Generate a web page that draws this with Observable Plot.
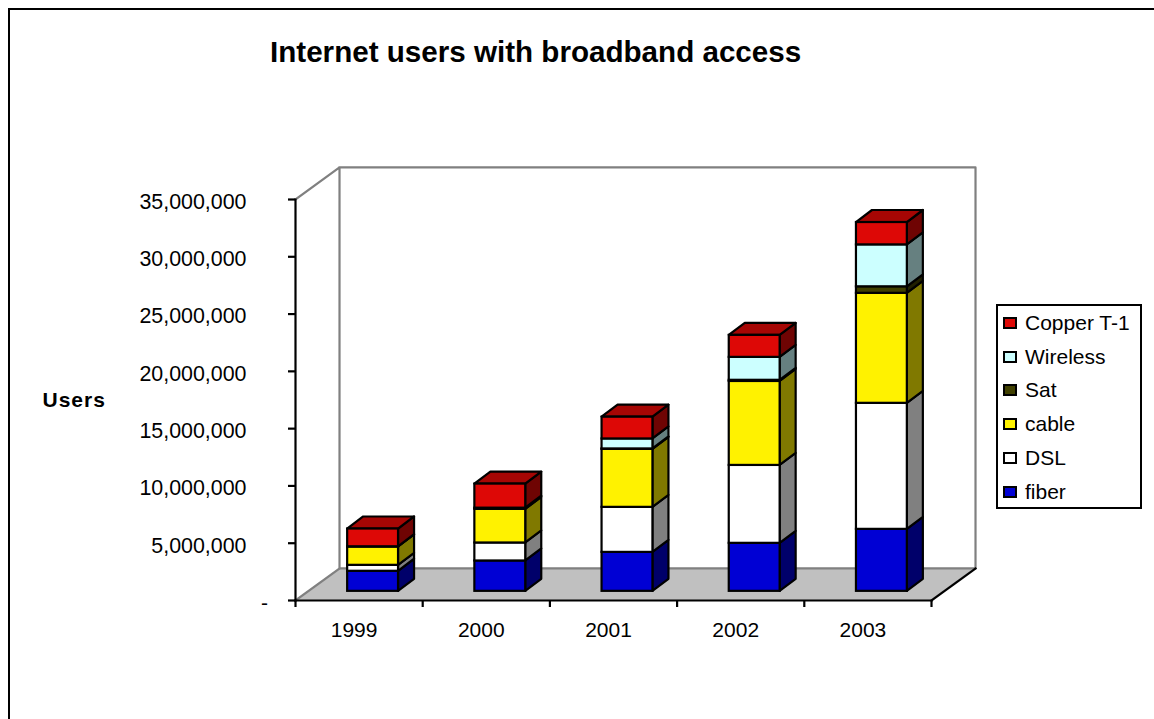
<!DOCTYPE html>
<html>
<head>
<meta charset="utf-8">
<script src="https://cdn.jsdelivr.net/npm/d3@7"></script>
<script src="https://cdn.jsdelivr.net/npm/@observablehq/plot@0.6"></script>
<style>
  html, body { margin: 0; padding: 0; background: #fff; }
  #page { position: relative; width: 1154px; height: 719px; overflow: hidden; font-family: "Liberation Sans", Arial, sans-serif; color: #000; }
  #page svg { position: absolute; left: 0; top: 0; }
  #frame { position: absolute; left: 8px; top: 8px; width: 1200px; height: 800px; border: 2px solid #000; }
  #title { position: absolute; left: 270px; top: 35px; font-size: 29.6px; font-weight: bold; white-space: nowrap; }
  #legend { position: absolute; left: 996px; top: 304px; width: 142px; height: 201px; border: 2px solid #000; background: #fff; }
  .entry { position: absolute; left: 5px; height: 24px; display: flex; align-items: center; font-size: 21px; white-space: nowrap; }
  .swatch { width: 10px; height: 8px; border: 2px solid #000; margin-right: 8px; }
</style>
</head>
<body>
<div id="page">
  <div id="frame"></div>
  <div id="title">Internet users with broadband access</div>
  <div id="legend"></div>
</div>
<script>
// Users per access technology, bottom to top of each stack
const years = [1999, 2000, 2001, 2002, 2003];
const seriesNames = ["fiber", "DSL", "cable", "Sat", "Wireless", "Copper T-1"];
const fiber = [1750000, 2650000, 3400000, 4190000, 5410000];
const dsl = [520000, 1570000, 3930000, 6800000, 11000000];
const cable = [1600000, 2940000, 5060000, 7330000, 9600000];
const sat = [20000, 100000, 40000, 100000, 570000];
const wireless = [0, 0, 870000, 2000000, 3660000];
const copper = [1550000, 2100000, 1900000, 1920000, 1950000];
const seriesValues = [fiber, dsl, cable, sat, wireless, copper];

// Face colours: lit front, half-shaded side, three-quarter top
const frontColors = ["#0000d4", "#ffffff", "#fff200", "#404000", "#ccffff", "#dd0806"];
const sideColors = ["#00006a", "#808080", "#807900", "#202000", "#668080", "#6f0403"];
const topColors = ["#00009f", "#bfbfbf", "#bfb600", "#303000", "#99bfbf", "#a60604"];

// Oblique projection, in data units: depth of the box and of each column
const boxDepthX = 0.346, boxDepthY = 2800000;
const barDepthX = 0.126, barDepthY = 1050000;
const barHalf = 0.2;
const barShift = (boxDepthX - barDepthX) / 2;
const barLift = 800000;
const xStart = years[0] - 0.5, xEnd = years[4] + 0.5;
const yMax = 35000000;
const yTicks = d3.range(0, yMax + 1, 5000000);
const xTicks = d3.range(xStart, xEnd + 0.5, 1);
const wallColor = "#808080", lineWidth = 2.2;

// One record per stacked segment
const segments = [];
years.forEach((year, i) => {
  let base = 0;
  seriesValues.forEach((values, s) => {
    if (values[i] > 0) {
      segments.push({year, s, y0: base, y1: base + values[i]});
      base += values[i];
    }
  });
});
const stackTops = segments.filter((d) => !segments.some((e) => e.year === d.year && e.y0 === d.y1));

const left = (d) => d.year - barHalf + barShift;
const right = (d) => d.year + barHalf + barShift;

const sidePoints = segments.flatMap((d) => [0, 1].map((t) => ({
  key: `${d.year}-${d.s}`,
  fill: sideColors[d.s],
  x: right(d) + t * barDepthX,
  y1: d.y0 + barLift + t * barDepthY,
  y2: d.y1 + barLift + t * barDepthY
})));
const topPoints = stackTops.flatMap((d) => [0, 1].map((t) => ({
  key: d.year,
  fill: topColors[d.s],
  y: d.y1 + barLift + t * barDepthY,
  x1: left(d) + t * barDepthX,
  x2: right(d) + t * barDepthX
})));
const frontFaces = segments.map((d) => ({
  fill: frontColors[d.s],
  x1: left(d), x2: right(d),
  y1: d.y0 + barLift, y2: d.y1 + barLift
}));

const line = (points, stroke) => Plot.line(points, {x: "0", y: "1", stroke, strokeWidth: lineWidth, strokeLinecap: "square"});

const chart = Plot.plot({
  width: 1154,
  height: 719,
  marginLeft: 295,
  marginRight: 223,
  marginTop: 199,
  marginBottom: 119,
  style: {background: "transparent", fontFamily: '"Liberation Sans", Arial, sans-serif', fontSize: "21px", color: "#000", overflow: "visible"},
  x: {type: "linear", domain: [xStart, xEnd]},
  y: {type: "linear", domain: [0, yMax]},
  marks: [
    // Floor of the box
    Plot.areaX([{y: 0, x1: xStart, x2: xEnd}, {y: boxDepthY, x1: xStart + boxDepthX, x2: xEnd + boxDepthX}],
      {y: "y", x1: "x1", x2: "x2", fill: "#c0c0c0"}),
    // Back walls
    line([[xStart, 0], [xStart + boxDepthX, boxDepthY]], wallColor),
    line([[xStart, yMax], [xStart + boxDepthX, yMax + boxDepthY], [xEnd + boxDepthX, yMax + boxDepthY], [xEnd + boxDepthX, boxDepthY], [xStart + boxDepthX, boxDepthY], [xStart + boxDepthX, yMax + boxDepthY]], wallColor),
    // Column faces
    Plot.areaY(sidePoints, {x: "x", y1: "y1", y2: "y2", z: "key", fill: "fill", stroke: "#000", strokeWidth: lineWidth}),
    Plot.areaX(topPoints, {y: "y", x1: "x1", x2: "x2", z: "key", fill: "fill", stroke: "#000", strokeWidth: lineWidth}),
    Plot.rect(frontFaces, {x1: "x1", x2: "x2", y1: "y1", y2: "y2", fill: "fill", stroke: "#000", strokeWidth: lineWidth}),
    // Front edges of the floor and the axis lines
    line([[xEnd, 0], [xEnd + boxDepthX, boxDepthY]], "#000"),
    line([[xStart, 0], [xEnd, 0]], "#000"),
    line([[xStart, 0], [xStart, yMax]], "#000"),
    Plot.axisY({ticks: yTicks, tickSize: 0, tickPadding: 49, label: null, fontSize: 21.4, dy: 2.5,
      tickFormat: (d) => d === 0 ? "" : d3.format(",")(d)}),
    Plot.axisY({ticks: yTicks, tickSize: 7, strokeWidth: lineWidth, label: null, tickFormat: () => ""}),
    Plot.text(["-"], {x: [xStart], y: [0], dx: -31, dy: 2.5, fontSize: 21}),
    Plot.axisX({ticks: xTicks, tickSize: 7, strokeWidth: lineWidth, label: null, tickFormat: () => ""}),
    Plot.axisX({ticks: years, tickSize: 0, tickPadding: 22, label: null, fontSize: 21, dx: -5, tickFormat: (d) => String(d)}),
    // Value axis title
    Plot.text(["Users"], {x: [xStart], y: [17500000], dx: -253, textAnchor: "start", fontWeight: "bold", fontSize: 21})
  ]
});
d3.select(chart).selectAll("text").filter(function () { return this.textContent === "Users"; }).style("letter-spacing", "1px");
document.getElementById("page").insertBefore(chart, document.getElementById("title"));

// Legend, top entry first
const legend = d3.select("#legend");
const order = d3.range(seriesNames.length).reverse();
order.forEach((s, i) => {
  const row = legend.append("div").attr("class", "entry").style("top", `${5 + i * 33.7}px`);
  row.append("div").attr("class", "swatch").style("background", frontColors[s]);
  row.append("span").text(seriesNames[s]);
});
</script>
</body>
</html>
